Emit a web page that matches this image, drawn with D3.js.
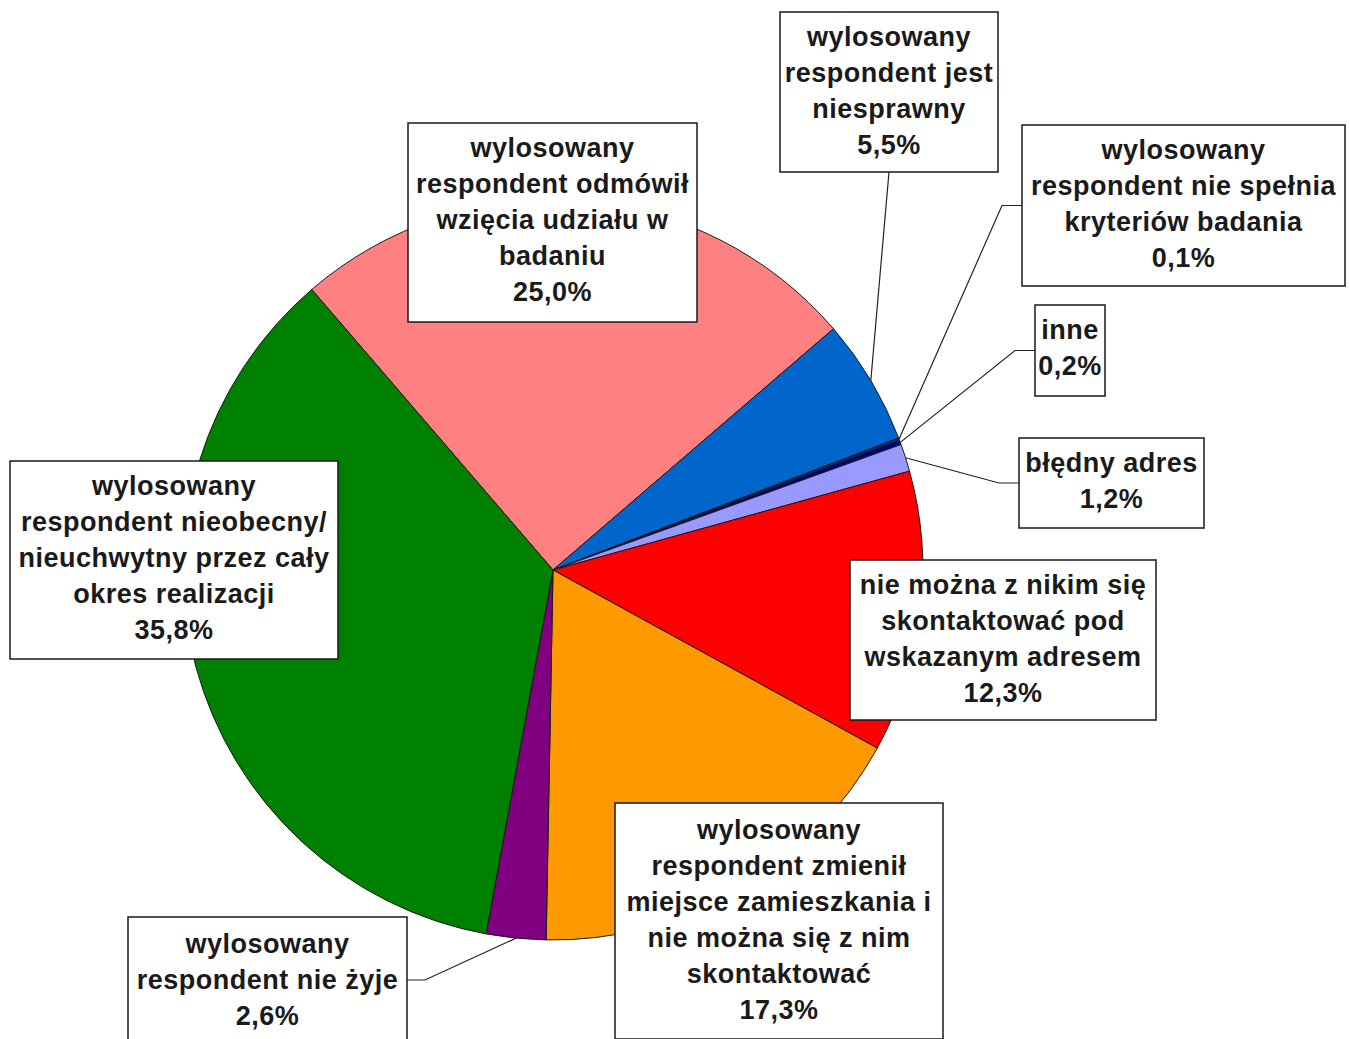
<!DOCTYPE html>
<html>
<head>
<meta charset="utf-8">
<script src="https://cdn.jsdelivr.net/npm/d3@7"></script>
<style>
  html, body { margin: 0; padding: 0; background: #fff; }
  svg { display: block; }
  .lbl text { font-family: "Liberation Sans", Arial, sans-serif; font-weight: bold; font-size: 27px; fill: #1a1a1a; letter-spacing: 0.5px; }
</style>
</head>
<body>
<div id="chart"></div>
<script>
"use strict";

// data, clockwise from the start angle
var categories = [
    ["wylosowany", "respondent odmówił", "wzięcia udziału w", "badaniu"],
    ["wylosowany", "respondent jest", "niesprawny"],
    ["wylosowany", "respondent nie spełnia", "kryteriów badania"],
    ["inne"],
    ["błędny adres"],
    ["nie można z nikim się", "skontaktować pod", "wskazanym adresem"],
    ["wylosowany", "respondent zmienił", "miejsce zamieszkania i", "nie można się z nim", "skontaktować"],
    ["wylosowany", "respondent nie żyje"],
    ["wylosowany", "respondent nieobecny/", "nieuchwytny przez cały", "okres realizacji"]
];
var values = [25.0, 5.5, 0.1, 0.2, 1.2, 12.3, 17.3, 2.6, 35.8];
var colors = ["#FF8080", "#0066CC", "#003399", "#000080", "#9999FF", "#FF0000", "#FF9900", "#800080", "#008000"];

// label box layout: x, y, width, height, leader side
var boxes = [
    { x: 408, y: 123, w: 289, h: 199, lead: null },
    { x: 780, y: 12, w: 218, h: 160, lead: "bottom" },
    { x: 1022, y: 125, w: 323, h: 161, lead: "left" },
    { x: 1035, y: 305, w: 70, h: 91, lead: "left" },
    { x: 1019, y: 438, w: 185, h: 90, lead: "left" },
    { x: 850, y: 560, w: 306, h: 160, lead: null },
    { x: 615, y: 803, w: 328, h: 236, lead: null },
    { x: 128, y: 917, w: 279, h: 128, lead: "right" },
    { x: 10, y: 461, w: 328, h: 198, lead: null }
];

var width = 1350, height = 1039;
var cx = 553, cy = 570, radius = 370;
var lineH = 36;

var fmt = function (v) { return d3.format(".1f")(v).replace(".", ",") + "%"; };

var svg = d3.select("#chart").append("svg")
    .attr("width", width).attr("height", height);

var pie = d3.pie().sort(null).value(function (d) { return d; })
    .startAngle(-40.7 * Math.PI / 180)
    .endAngle((360 - 40.7) * Math.PI / 180);
var arcs = pie(values);

var arc = d3.arc().innerRadius(0).outerRadius(radius);
var edge = d3.arc().innerRadius(radius).outerRadius(radius);

var g = svg.append("g").attr("transform", "translate(" + cx + "," + cy + ")");
g.selectAll("path.slice").data(arcs).enter().append("path")
    .attr("class", "slice")
    .attr("d", arc)
    .attr("fill", function (d, i) { return colors[i]; })
    .attr("stroke", "#1a1a1a")
    .attr("stroke-width", 1);

// leader lines
var leaders = svg.append("g");
arcs.forEach(function (d, i) {
    var b = boxes[i];
    if (!b.lead) return;
    var c = edge.centroid(d);
    var p = [cx + c[0], cy + c[1]];
    var pts;
    if (b.lead === "bottom") {
        pts = [[b.x + b.w / 2, b.y + b.h], p];
    } else if (b.lead === "left") {
        var my = b.y + b.h / 2;
        pts = [[b.x, my], [b.x - 20, my], p];
    } else {
        var ry = b.y + 63;
        pts = [[b.x + b.w, ry], [b.x + b.w + 18, ry], p];
    }
    leaders.append("path")
        .attr("d", d3.line()(pts))
        .attr("fill", "none")
        .attr("stroke", "#222")
        .attr("stroke-width", 1.2);
});

// label boxes
var lbl = svg.append("g").attr("class", "lbl");
categories.forEach(function (lines, i) {
    var b = boxes[i];
    var all = lines.concat([fmt(values[i])]);
    lbl.append("rect")
        .attr("x", b.x).attr("y", b.y).attr("width", b.w).attr("height", b.h)
        .attr("fill", "#fff").attr("stroke", "#1a1a1a").attr("stroke-width", 1.5);
    var top = b.y + 25;
    if (i === 6) top = b.y + 27;
    if (i === 7) top = b.y + 27;
    all.forEach(function (t, k) {
        lbl.append("text")
            .attr("x", b.x + b.w / 2)
            .attr("y", top + k * lineH)
            .attr("text-anchor", "middle")
            .attr("dominant-baseline", "central")
            .text(t);
    });
});
</script>
</body>
</html>
